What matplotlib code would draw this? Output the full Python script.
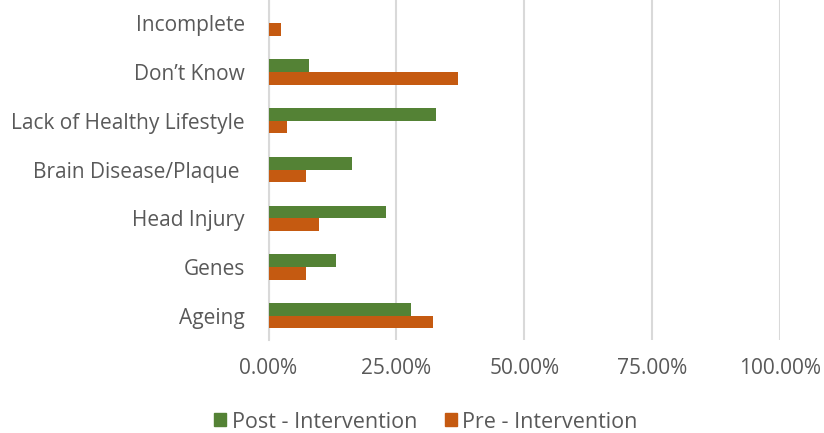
import matplotlib
matplotlib.use("Agg")
import matplotlib.pyplot as plt
import numpy as np
from matplotlib.ticker import FuncFormatter
from matplotlib.patches import Patch

categories = ["Ageing", "Genes", "Head Injury", "Brain Disease/Plaque ",
              "Lack of Healthy Lifestyle", "Don\u2019t Know", "Incomplete"]
post = [0.279, 0.131, 0.229, 0.164, 0.328, 0.080, 0.0]
pre = [0.321, 0.074, 0.099, 0.073, 0.037, 0.370, 0.025]
xticks = [0, 0.25, 0.5, 0.75, 1.0]

green = "#548235"
orange = "#C55A11"
txt = "#595959"

plt.rcParams['font.family'] = ['Open Sans', 'DejaVu Sans']

fig = plt.figure(figsize=(8.24, 4.33), dpi=100)
ax = fig.add_axes([268.5/824, 1 - 340/433, (780 - 268.5)/824, 341/433])

y = np.arange(len(categories))
h = 0.26
ax.barh(y + h/2, post, height=h, color=green, label="Post - Intervention", zorder=3)
ax.barh(y - h/2, pre, height=h, color=orange, label="Pre - Intervention", zorder=3)

ax.set_xlim(0, 1.0)
ax.set_ylim(-0.5, len(categories) - 0.5)
ax.set_xticks(xticks)
ax.xaxis.set_major_formatter(FuncFormatter(lambda v, p: f"{v*100:.2f}%"))
ax.set_yticks(y)
ax.set_yticklabels(categories)
ax.tick_params(axis='both', length=0, labelsize=15, colors=txt)
ax.tick_params(axis='x', pad=13)
ax.tick_params(axis='y', pad=17)
ax.grid(axis='x', color='#D9D9D9', linewidth=1.5, zorder=0)
for s in ['top', 'right', 'bottom']:
    ax.spines[s].set_visible(False)
ax.spines['left'].set_color('#D9D9D9')
ax.spines['left'].set_linewidth(1.5)

handles = [Patch(color=green, label="Post - Intervention"),
           Patch(color=orange, label="Pre - Intervention")]
leg = fig.legend(handles=handles, loc='center', bbox_to_anchor=(426/824, 1 - 422/433),
                 ncol=2, frameon=False, fontsize=15.5, handlelength=0.55, handleheight=0.55,
                 handletextpad=0.25, columnspacing=1.3)
for t in leg.get_texts():
    t.set_color(txt)

fig.savefig("out.png", dpi=100)
